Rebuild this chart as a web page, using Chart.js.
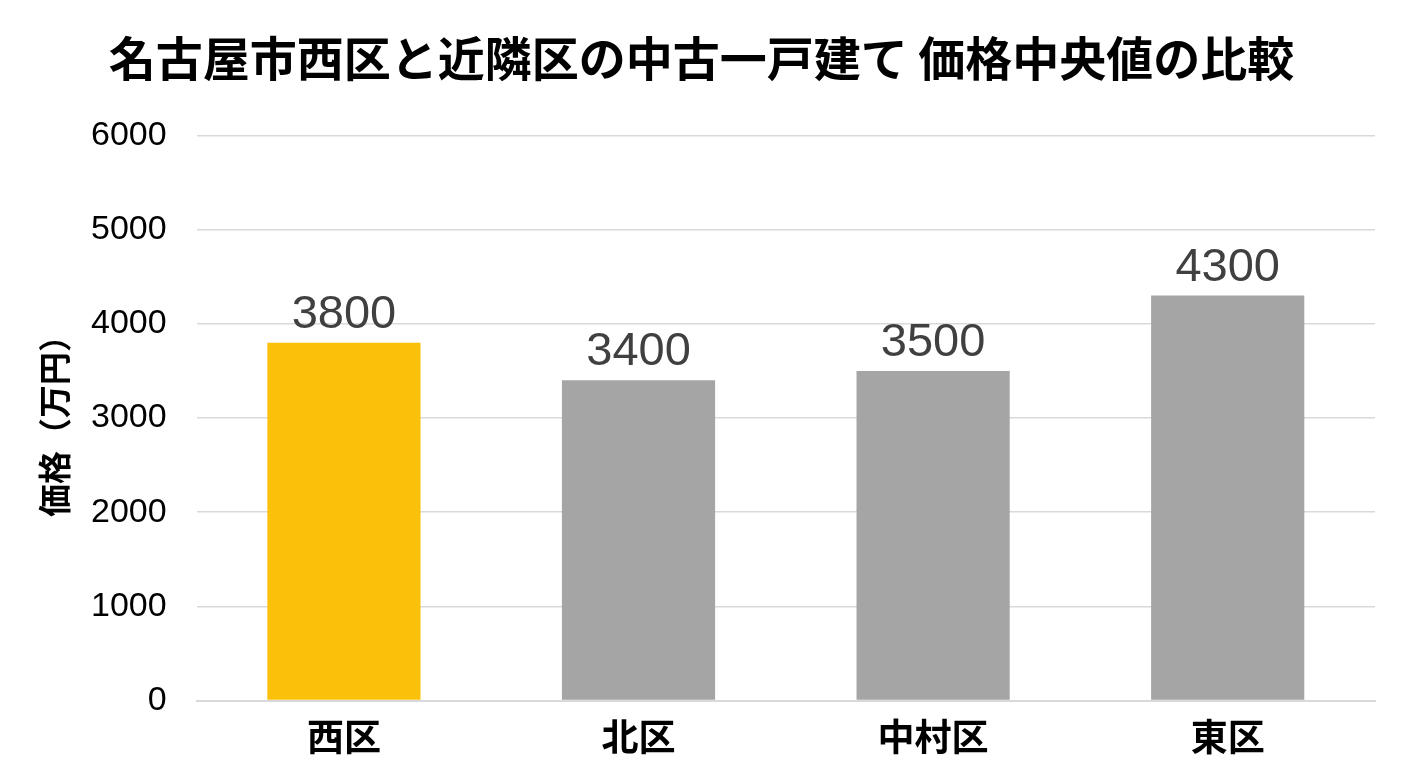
<!DOCTYPE html>
<html lang="ja">
<head>
<meta charset="UTF-8">
<title>中古一戸建て 価格中央値の比較</title>
<script src="https://cdn.jsdelivr.net/npm/chart.js"></script>
<style>
  html, body { margin: 0; padding: 0; background: #fff; overflow: hidden; }
  .chartBox { width: 1408px; height: 768px; }
</style>
</head>
<body>
<div class="chartBox">
  <canvas id="myChart"></canvas>
</div>
<script>
// data
const categories = ['西区', '北区', '中村区', '東区'];
const prices = [3800, 3400, 3500, 4300];
const barColors = ['#FBC00A', '#A5A5A5', '#A5A5A5', '#A5A5A5'];
const yTicks = [0, 1000, 2000, 3000, 4000, 5000, 6000];

const jpFont = '"Noto Sans CJK JP", "Noto Sans", sans-serif';
const numFont = '"Liberation Sans", Arial, sans-serif';

// value labels above bars
const valueLabels = {
  id: 'valueLabels',
  afterDatasetsDraw(chart) {
    const ctx = chart.ctx;
    const meta = chart.getDatasetMeta(0);
    ctx.save();
    ctx.font = '47px ' + numFont;
    ctx.fillStyle = '#404040';
    ctx.textAlign = 'center';
    ctx.textBaseline = 'alphabetic';
    meta.data.forEach((bar, i) => {
      ctx.fillText(String(prices[i]), bar.x, bar.y - 15);
    });
    ctx.restore();
  }
};

const config = {
  type: 'bar',
  data: {
    labels: categories,
    datasets: [{
      data: prices,
      backgroundColor: barColors,
      borderWidth: 0,
      categoryPercentage: 1.0,
      barPercentage: 0.52
    }]
  },
  options: {
    responsive: true,
    maintainAspectRatio: false,
    animation: false,
    layout: { padding: { left: 28, right: 33, top: 30, bottom: -5 } },
    plugins: {
      legend: { display: false },
      tooltip: { enabled: false },
      title: {
        display: true,
        text: '名古屋市西区と近隣区の中古一戸建て 価格中央値の比較',
        color: '#000',
        font: { family: jpFont, size: 47, weight: 'bold' },
        padding: { top: 0, bottom: 49 }
      }
    },
    scales: {
      x: {
        grid: { display: false, drawTicks: false, tickLength: 0 },
        border: { display: true, color: '#d9d9d9', width: 2 },
        ticks: {
          color: '#000',
          padding: 14,
          font: { family: jpFont, size: 37, weight: 'bold' }
        }
      },
      y: {
        min: 0,
        max: 6000,
        afterBuildTicks: axis => { axis.ticks = yTicks.map(v => ({ value: v })); },
        grid: { color: '#d9d9d9', lineWidth: 1.5, drawTicks: false, tickLength: 0 },
        border: { display: false },
        ticks: {
          color: '#000',
          padding: 30,
          font: { family: numFont, size: 34 },
          callback: v => String(v)
        },
        title: {
          display: true,
          text: '価格（万円）',
          color: '#000',
          padding: { top: 10, bottom: -10 },
          font: { family: jpFont, size: 33, weight: 'bold', lineHeight: 1.0 }
        }
      }
    }
  },
  plugins: [valueLabels]
};

const myChart = new Chart(document.getElementById('myChart'), config);
</script>
</body>
</html>
